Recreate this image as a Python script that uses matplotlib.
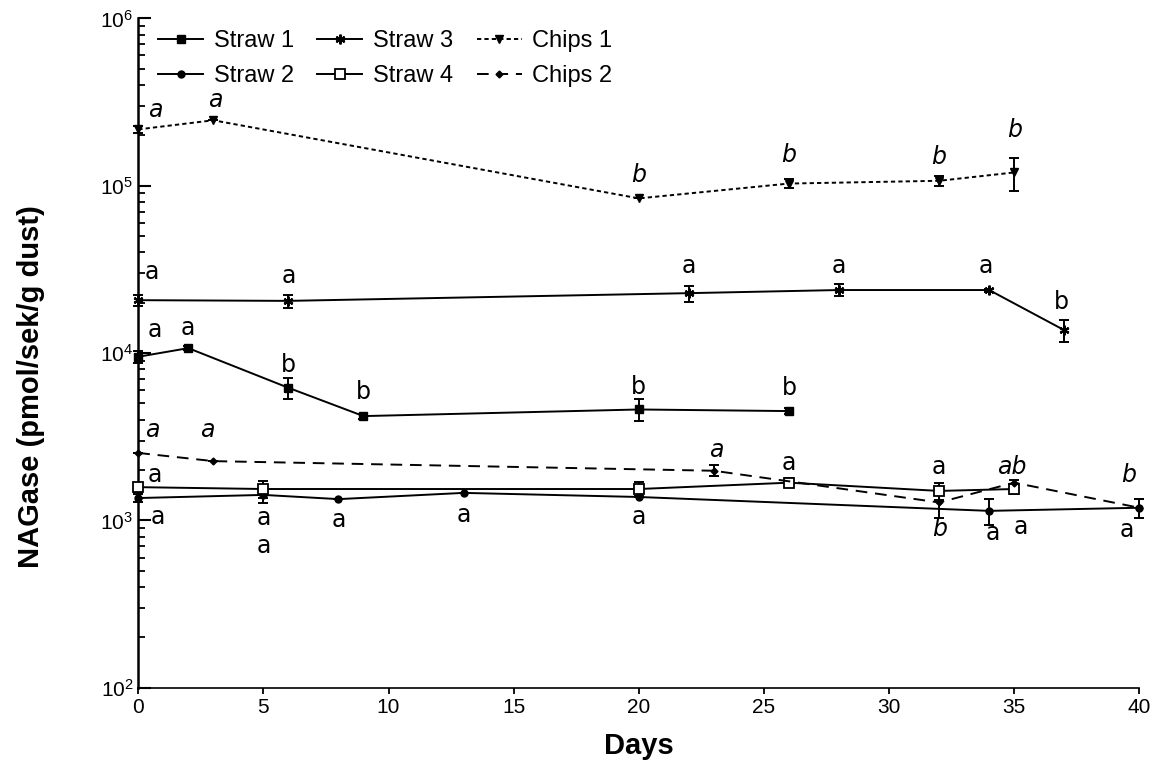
import matplotlib
matplotlib.use("Agg")
import matplotlib.pyplot as plt
from matplotlib.ticker import LogLocator, NullFormatter

plt.rcParams['font.family'] = ['Liberation Sans', 'DejaVu Sans']
plt.rcParams['mathtext.fontset'] = 'custom'
plt.rcParams['mathtext.rm'] = 'Liberation Sans'

# datos (dias, valor, error)
straw1_days = [0, 2, 6, 9, 20, 26]
straw1_vals = [9500, 10700, 6200, 4200, 4600, 4500]
straw1_err = [800, 300, 900, 150, 700, 200]
straw1_let = ['a', 'a', 'b', 'b', 'b', 'b']

straw2_days = [0, 5, 8, 13, 20, 34, 40]
straw2_vals = [1360, 1420, 1340, 1460, 1380, 1140, 1190]
straw2_err = [80, 150, 0, 0, 0, 200, 150]
straw2_let = ['a', 'a', 'a', 'a', 'a', 'a', 'a']

straw3_days = [0, 6, 22, 28, 34, 37]
straw3_vals = [20700, 20500, 22800, 23800, 23800, 13700]
straw3_err = [1500, 1800, 2500, 2000, 500, 2000]
straw3_let = ['a', 'a', 'a', 'a', 'a', 'b']

straw4_days = [0, 5, 20, 26, 32, 35]
straw4_vals = [1580, 1540, 1540, 1680, 1500, 1540]
straw4_err = [100, 180, 150, 100, 170, 100]
straw4_let = ['a', 'a', '', 'a', 'a', 'a']

chips1_days = [0, 3, 20, 26, 32, 35]
chips1_vals = [217000, 246000, 84000, 103000, 107000, 120000]
chips1_err = [10000, 0, 0, 6500, 7000, 27000]
chips1_let = ['a', 'a', 'b', 'b', 'b', 'b']

chips2_days = [0, 3, 23, 32, 35, 40]
chips2_vals = [2530, 2260, 1980, 1280, 1680, 1190]
chips2_err = [0, 0, 150, 250, 60, 150]
chips2_let = ['a', 'a', 'a', 'b', 'ab', 'b']

# desplazamiento de las letras en pixeles (dx, dy)
straw1_off = [(17, 27), (0, 20), (0, 23), (0, 24), (0, 22), (0, 23)]
straw2_off = [(20, -19), (0, -23), (0, -21), (0, -22), (0, -20), (4, -22), (-13, -22)]
straw3_off = [(14, 28), (0, 25), (0, 27), (0, 24), (-3, 24), (-3, 28)]
straw4_off = [(17, 12), (0, -57), (0, 0), (0, 20), (0, 24), (7, -38)]
chips1_off = [(17, 19), (2, 20), (0, 23), (0, 29), (0, 24), (0, 42)]
chips2_off = [(14, 23), (-6, 31), (2, 21), (1, -27), (-2, 16), (-11, 33)]

fig = plt.figure(figsize=(11.52, 7.65), dpi=100)
ax = fig.add_axes([0.120, 0.101, 0.869, 0.875])

series = [
    ('Straw 1', straw1_days, straw1_vals, straw1_err, straw1_let, straw1_off,
     dict(marker='s', ms=6, mfc='black', ls='-'), 'normal'),
    ('Straw 2', straw2_days, straw2_vals, straw2_err, straw2_let, straw2_off,
     dict(marker='o', ms=5, mfc='black', ls='-'), 'normal'),
    ('Straw 3', straw3_days, straw3_vals, straw3_err, straw3_let, straw3_off,
     dict(marker=(6, 2, 0), ms=7, mew=1.6, ls='-'), 'normal'),
    ('Straw 4', straw4_days, straw4_vals, straw4_err, straw4_let, straw4_off,
     dict(marker='s', ms=6.5, mfc='white', mew=1.3, ls='-'), 'normal'),
    ('Chips 1', chips1_days, chips1_vals, chips1_err, chips1_let, chips1_off,
     dict(marker='v', ms=6, mfc='black', ls=(0, (2.2, 1.6))), 'italic'),
    ('Chips 2', chips2_days, chips2_vals, chips2_err, chips2_let, chips2_off,
     dict(marker='D', ms=3.5, mfc='black', ls=(0, (6, 4))), 'italic'),
]

handles = []
for name, d, v, e, let, off, st, style in series:
    # barras de error sin leyenda
    ax.errorbar(d, v, yerr=e, fmt='none', ecolor='black', elinewidth=1.4,
                capsize=3.5, capthick=1.4, clip_on=False, zorder=2)
    ln, = ax.plot(d, v, color='black', lw=1.4, mec='black', label=name,
                  clip_on=False, zorder=3, **st)
    handles.append(ln)
    for i in range(len(d)):
        if let[i] == '':
            continue
        ax.annotate(let[i], (d[i], v[i]), xytext=off[i], textcoords='offset pixels',
                    ha='center', va='center', fontsize=17, style=style,
                    family=['DejaVu Sans'])

ax.set_yscale('log')
ax.set_ylim(100, 1e6)
ax.set_xlim(0, 40)
ax.set_xticks(range(0, 41, 5))
ax.yaxis.set_major_locator(LogLocator(base=10, numticks=10))
ax.yaxis.set_minor_locator(LogLocator(base=10, subs=range(2, 10), numticks=20))
ax.yaxis.set_minor_formatter(NullFormatter())

ax.spines['top'].set_visible(False)
ax.spines['right'].set_visible(False)
ax.spines['left'].set_linewidth(1.8)
ax.spines['bottom'].set_linewidth(1.2)
ax.tick_params(axis='y', which='major', direction='in', length=9, width=1.5, labelsize=15)
ax.tick_params(axis='y', which='minor', direction='in', length=5, width=1.3)
ax.tick_params(axis='x', which='major', direction='out', length=4, width=1.3, labelsize=15)

ax.set_xlabel('Days', fontsize=21, fontweight='bold')
ax.set_ylabel('NAGase (pmol/sek/g dust)', fontsize=21, fontweight='bold')
ax.xaxis.set_label_coords(0.5, -0.066)
ax.yaxis.set_label_coords(-0.093, 0.45)

ax.legend(handles=handles, loc='upper left', bbox_to_anchor=(0.02, 0.982), ncol=3,
          frameon=False, fontsize=17, handlelength=1.9, columnspacing=1.0,
          handletextpad=0.45, labelspacing=0.55, borderpad=0, borderaxespad=0)

fig.savefig('out.png', dpi=100)
